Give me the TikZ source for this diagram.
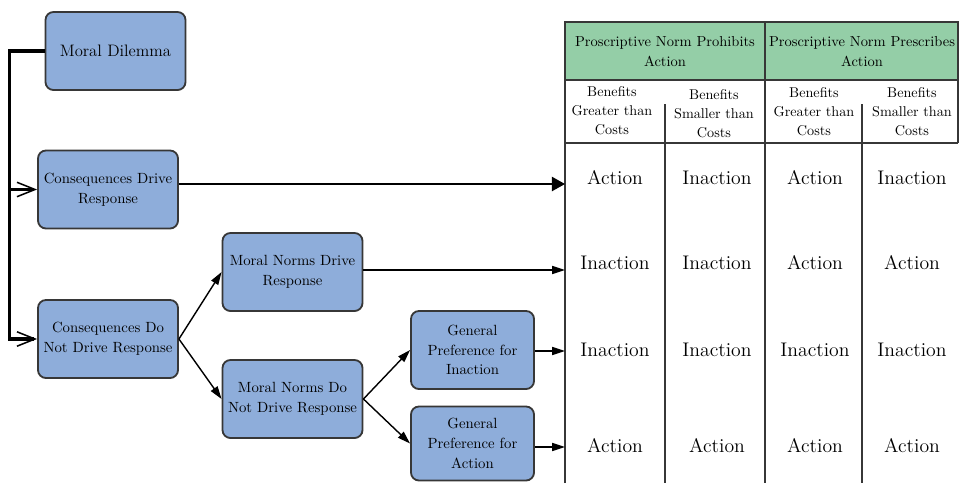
\documentclass[tikz,border=0pt]{standalone}
\usepackage{fontspec}
\usetikzlibrary{arrows.meta}
\definecolor{boxblue}{RGB}{142,173,218}
\definecolor{headgreen}{RGB}{148,206,167}
\definecolor{edgegray}{RGB}{55,55,55}
\tikzset{
  stage/.style={draw=edgegray,line width=1.3pt,fill=boxblue,rounded corners=2mm,
    align=center,minimum width=3.5cm,minimum height=1.95cm,inner sep=1pt,
    font=\fontsize{10.5}{14}\selectfont},
  trunk/.style={line width=2.8pt,-{Straight Barb[length=4.5mm,width=3.6mm,line width=1.1pt]}},
  flow/.style={line width=1pt,-{Triangle[length=3.2mm,width=2mm]}},
  grid/.style={draw=edgegray,line width=1.3pt},
  headtext/.style={align=center,inner sep=0,font=\fontsize{10.3}{14.2}\selectfont},
  subtext/.style={align=center,inner sep=0,font=\fontsize{10.1}{13.6}\selectfont},
  cell/.style={inner sep=0,font=\fontsize{14}{17}\selectfont}
}
\begin{document}
\begin{tikzpicture}[x=0.025cm,y=-0.025cm]
\useasboundingbox (0,0) rectangle (960,483);
% decision tree
\node[stage,font=\fontsize{11.8}{15}\selectfont](dilemma)at(115.5,51){Moral Dilemma};
\node[stage](cdrive)at(108,189.5){Consequences Drive\\Response};
\node[stage](cnot)at(108,339){Consequences Do\\Not Drive Response};
\node[stage](mdrive)at(292.5,272){Moral Norms Drive\\Response};
\node[stage](mnot)at(292.5,399){Moral Norms Do\\Not Drive Response};
\node[stage,minimum width=3.075cm](pinact)at(472.5,350){General\\Preference for\\Inaction};
\node[stage,minimum width=3.075cm,minimum height=1.85cm](pact)at(472.5,443.5){General\\Preference for\\Action};
% table
\fill[headgreen](565,22)rectangle(958,80);
\draw[grid](565,483)--(565,22)--(958,22)--(958,143);
\draw[grid](565,80)--(958,80)(565,143)--(958,143);
\draw[grid](765,22)--(765,483);
\draw[grid](665,104)--(665,483)(862,104)--(862,483);
\node[headtext](hprohib)at(665,52){Proscriptive Norm Prohibits\\Action};
\node[headtext](hprescr)at(862,52){Proscriptive Norm Prescribes\\Action};
\node[subtext](sub1)at(612,111){Benefits\\Greater than\\Costs};
\node[subtext](sub2)at(714,114){Benefits\\Smaller than\\Costs};
\node[subtext](sub3)at(814,112){Benefits\\Greater than\\Costs};
\node[subtext](sub4)at(912,112){Benefits\\Smaller than\\Costs};
\foreach \r/\ya/\a/\b/\c/\d in {1/178/Action/Inaction/Action/Inaction,
  2/263/Inaction/Inaction/Action/Action,
  3/350/Inaction/Inaction/Inaction/Inaction,
  4/446/Action/Action/Action/Action}{
  \node[cell](res\r a)at(615,\ya){\a};
  \node[cell](res\r b)at(717,\ya){\b};
  \node[cell](res\r c)at(815,\ya){\c};
  \node[cell](res\r d)at(912,\ya){\d};
}
\coordinate(spine)at(9.5,0);
\coordinate(t1)at(565,184);
\coordinate(t2)at(565,270);
\coordinate(t3)at(565,351);
\coordinate(t4)at(565,447);
% connectors
\draw[trunk](dilemma.west)-|(spine|-cnot.west)--(cnot.west);
\draw[trunk](spine|-cdrive.west)--(cdrive.west);
\draw[flow,-{Triangle[length=3.3mm,width=3.6mm]}](cdrive.east|-t1)--(t1);
\draw[flow](mdrive.east|-t2)--(t2);
\draw[flow](pinact.east|-t3)--(t3);
\draw[flow](pact.east|-t4)--(t4);
\draw[flow](cnot.east)--(mdrive.west);
\draw[flow](cnot.east)--(mnot.west);
\draw[flow](mnot.east)--(pinact.west);
\draw[flow](mnot.east)--(pact.west);
\end{tikzpicture}
\end{document}
